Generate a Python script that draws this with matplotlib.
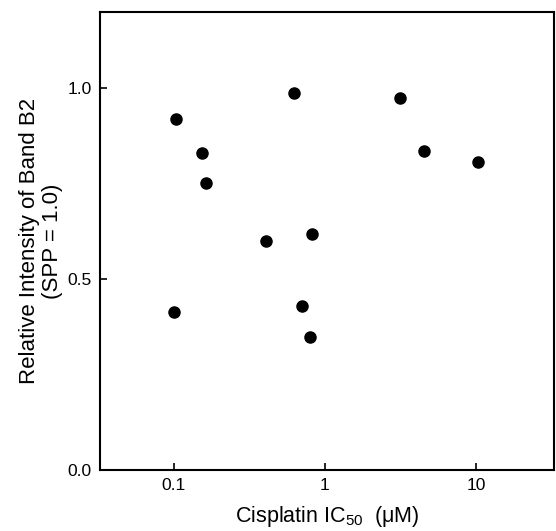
import matplotlib
matplotlib.use("Agg")
import matplotlib.pyplot as plt

plt.rcParams['font.family'] = ['Liberation Sans', 'DejaVu Sans']
plt.rcParams['mathtext.fontset'] = 'custom'
plt.rcParams['mathtext.rm'] = 'Liberation Sans'

# Data
ic50 = [0.62, 3.12, 0.103, 0.154, 0.164, 4.55, 10.4, 0.407, 0.817, 0.100, 0.708, 0.80]
rel_intensity = [0.988, 0.976, 0.921, 0.832, 0.752, 0.837, 0.807, 0.600, 0.619, 0.413, 0.430, 0.349]
xticks = [0.1, 1, 10]
xticklabels = ["0.1", "1", "10"]
yticks = [0.0, 0.5, 1.0]
yticklabels = ["0.0", "0.5", "1.0"]

fig = plt.figure(figsize=(5.56, 5.31), dpi=100)
ax = fig.add_axes([0.180, 0.115, 0.8164, 0.862])

ax.plot(ic50, rel_intensity, 'o', color='black', markersize=8, linestyle='none')

ax.set_xscale('log')
ax.set_xlim(0.0324, 32.9)
ax.set_ylim(0, 1.2)
ax.set_xticks(xticks)
ax.set_xticklabels(xticklabels)
ax.set_yticks(yticks)
ax.set_yticklabels(yticklabels)
ax.minorticks_off()
ax.tick_params(direction='in', length=5, width=1.2, labelsize=12.5, pad=6)

for s in ax.spines.values():
    s.set_linewidth(1.5)

ax.set_xlabel("Cisplatin IC$_{50}$  (μM)", fontsize=15.5, labelpad=8)
ax.set_ylabel("Relative Intensity of Band B2\n(SPP = 1.0)", fontsize=16, labelpad=3, linespacing=1.15)

fig.savefig("out.png", dpi=100)
